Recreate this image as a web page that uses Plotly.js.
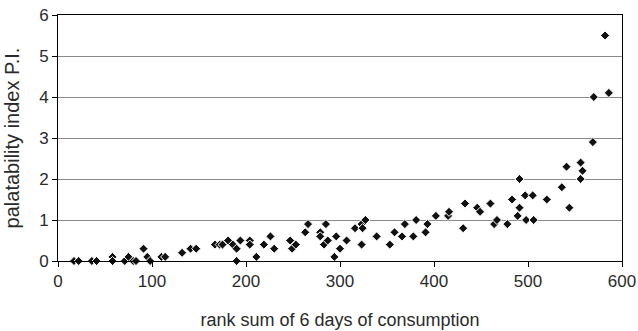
<!DOCTYPE html>
<html>
<head>
<meta charset="utf-8">
<script src="https://cdn.plot.ly/plotly-3.0.1.min.js"></script>
<style>html,body{margin:0;padding:0;background:#fff;}#chart{width:638px;height:331px;}</style>
</head>
<body>
<div id="chart"></div>
<script>
const rankSum = [17,22,36,41,58,58,71,75,80,83,91,95,98,110,114,132,141,147,
  167,172,175,181,186,190,190,194,204,204,211,219,226,230,247,249,253,263,266,
  279,279,283,285,287,294,296,300,307,316,323,323,324,327,339,353,358,366,369,
  378,381,391,393,402,415,416,431,433,446,449,460,464,467,478,483,489,491,491,
  497,498,505,506,520,536,541,544,556,558,556,569,570,582,586];
const palatIndex = [0,0,0,0,0.1,0,0,0.1,0,0,0.3,0.1,0,0.1,0.1,0.2,0.3,0.3,
  0.4,0.4,0.4,0.5,0.4,0.3,0,0.5,0.5,0.4,0.1,0.4,0.6,0.3,0.5,0.3,0.4,0.7,0.9,
  0.7,0.6,0.4,0.9,0.5,0.1,0.6,0.3,0.5,0.8,0.9,0.4,0.8,1.0,0.6,0.4,0.7,0.6,0.9,
  0.6,1.0,0.7,0.9,1.1,1.1,1.2,0.8,1.4,1.3,1.2,1.4,0.9,1.0,0.9,1.5,1.1,2.0,1.3,
  1.6,1.0,1.6,1.0,1.5,1.8,2.3,1.3,2.4,2.2,2.0,2.9,4.0,5.5,4.1];
const xTicks = [0,100,200,300,400,500,600];
const yTicks = [0,1,2,3,4,5,6];

const family = '"Liberation Sans", Arial, sans-serif';
const font = {family: family, size: 17, color: '#2a2a2a'};

Plotly.newPlot('chart', [{
  x: rankSum, y: palatIndex, type: 'scatter', mode: 'markers',
  marker: {symbol: 'diamond', size: 7, color: '#111', line: {color: '#fff', width: 1}},
  cliponaxis: false, hoverinfo: 'x+y'
}], {
  width: 638, height: 331,
  margin: {l: 58, r: 16, t: 15, b: 70},
  paper_bgcolor: '#fff', plot_bgcolor: '#fff',
  font: font,
  showlegend: false,
  xaxis: {
    range: [0, 600], tickvals: xTicks, ticktext: xTicks.map(String),
    showgrid: false, zeroline: false, showline: true, linecolor: '#000', linewidth: 1,
    mirror: true, ticks: 'outside', ticklen: 5, tickcolor: '#000',
    tickfont: font,
    title: {text: 'rank sum of 6 days of consumption', font: {family: family, size: 18, color: '#2a2a2a'}, standoff: 22}
  },
  yaxis: {
    range: [0, 6], tickvals: yTicks, ticktext: yTicks.map(String),
    showgrid: true, gridcolor: '#8a8a8a', gridwidth: 1,
    zeroline: false, showline: true, linecolor: '#000', linewidth: 1,
    mirror: true, ticks: 'outside', ticklen: 5, tickcolor: '#000',
    tickfont: font,
    title: {text: 'palatability index P.I.', font: {family: family, size: 20, color: '#2a2a2a'}, standoff: 14}
  }
}, {displayModeBar: false, staticPlot: true});
</script>
</body>
</html>
